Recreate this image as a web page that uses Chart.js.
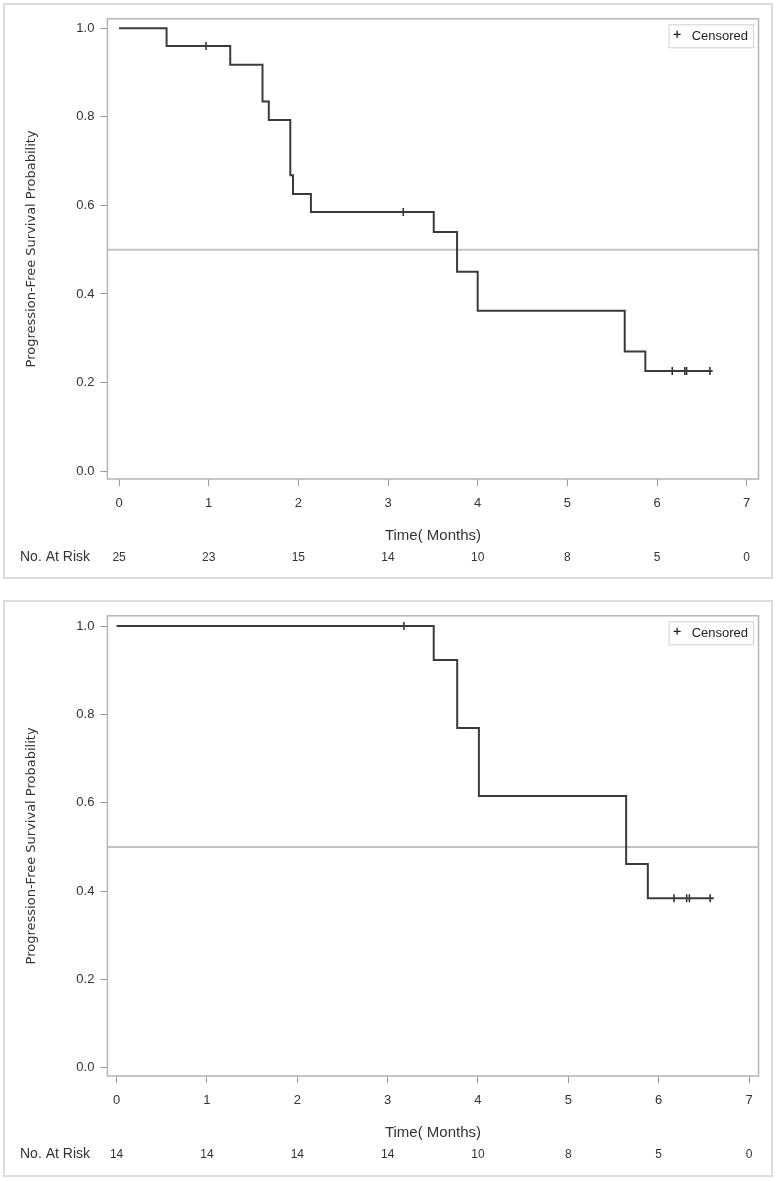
<!DOCTYPE html>
<html>
<head>
<meta charset="utf-8">
<script src="https://cdn.jsdelivr.net/npm/chart.js@4/dist/chart.umd.min.js"></script>
<style>
body { margin: 0; background: #fff; width: 776px; height: 1181px; position: relative; }
.panel { position: absolute; left: 3px; width: 766px; border: 2px solid #dcdcdc; background: #fff; }
.panel canvas { display: block; }
</style>
</head>
<body>
<div class="panel" style="top:3px;height:572px;"><canvas id="km-top" width="766" height="572"></canvas></div>
<div class="panel" style="top:600px;height:573px;"><canvas id="km-bottom" width="766" height="573"></canvas></div>
<script>
// ticks shared by both panels
const timeTicks = [0, 1, 2, 3, 4, 5, 6, 7];
const probTicks = [0, 0.2, 0.4, 0.6, 0.8, 1.0];
const medianLevel = 0.5;

// top panel (all patients)
const pfsTime1 = [0, 0.53, 1.24, 1.60, 1.67, 1.91, 1.94, 2.14, 3.51, 3.77, 4.00, 5.64, 5.87, 6.62];
const pfsProb1 = [1.0, 0.960, 0.918, 0.835, 0.793, 0.668, 0.626, 0.585, 0.540, 0.450, 0.362, 0.270, 0.226, 0.226];
const censorTime1 = [0.97, 3.17, 6.17, 6.31, 6.33, 6.59];
const censorProb1 = [0.960, 0.585, 0.226, 0.226, 0.226, 0.226];
const atRisk1 = [25, 23, 15, 14, 10, 8, 5, 0];

// bottom panel
const pfsTime2 = [0, 3.51, 3.77, 4.01, 5.64, 5.88, 6.61];
const pfsProb2 = [1.0, 0.923, 0.769, 0.615, 0.461, 0.384, 0.384];
const censorTime2 = [3.18, 6.17, 6.31, 6.34, 6.57];
const censorProb2 = [1.0, 0.384, 0.384, 0.384, 0.384];
const atRisk2 = [14, 14, 14, 14, 10, 8, 5, 0];

Chart.defaults.font.family = "'Liberation Sans', Arial, sans-serif";
Chart.defaults.color = '#333';

function toPoints(xs, ys){
    var pts = [];
    for (var i = 0; i < xs.length; i++) pts.push({x: xs[i], y: ys[i]});
    return pts;
}

const kmDecor = {
    id: 'kmDecor',
    beforeDatasetsDraw(chart){
        var a = chart.chartArea;
        var ctx = chart.ctx;
        ctx.save();
        ctx.strokeStyle = '#b4b4b4';
        ctx.lineWidth = 1.5;
        ctx.strokeRect(a.left, a.top, a.right - a.left, a.bottom - a.top);
        ctx.restore();
    },
    afterDraw(chart){
        var a = chart.chartArea;
        var ctx = chart.ctx;
        ctx.save();
        // legend box
        ctx.font = "13px 'Liberation Sans', Arial, sans-serif";
        var tw = ctx.measureText('Censored').width;
        var bw = 23 + tw + 5;
        var bh = 23;
        var bx = a.right - 5.5 - bw;
        var by = a.top + 5.5;
        ctx.fillStyle = '#fff';
        ctx.fillRect(bx, by, bw, bh);
        ctx.strokeStyle = '#d0d0d0';
        ctx.lineWidth = 1;
        ctx.strokeRect(bx + 0.5, by + 0.5, bw, bh);
        ctx.strokeStyle = '#222';
        ctx.lineWidth = 1.3;
        var cx = bx + 8.5, cy = by + 10;
        ctx.beginPath();
        ctx.moveTo(cx - 3.5, cy); ctx.lineTo(cx + 3.5, cy);
        ctx.moveTo(cx, cy - 3.5); ctx.lineTo(cx, cy + 3.5);
        ctx.stroke();
        ctx.fillStyle = '#222';
        ctx.textBaseline = 'middle';
        ctx.fillText('Censored', bx + 23, by + bh / 2 + 1);
        // at-risk row label
        var r = chart.scales.x2;
        ctx.font = "14px 'Liberation Sans', Arial, sans-serif";
        ctx.fillStyle = '#333';
        ctx.fillText('No. At Risk', 15, r.top + 5.6 + 7.2);
        ctx.restore();
    }
};

function drawKmChart(id, times, probs, cTimes, cProbs, atRisk, xMin, xMax, yMin, yMax, padTop, padBottom){
    new Chart(document.getElementById(id), {
        type: 'scatter',
        data: {
            datasets: [{
                label: 'PFS',
                data: toPoints(times, probs),
                showLine: true,
                stepped: true,
                borderColor: '#3a3a3a',
                borderWidth: 2,
                pointRadius: 0,
                xAxisID: 'x', yAxisID: 'y'
            }, {
                label: 'Censored',
                data: toPoints(cTimes, cProbs),
                showLine: false,
                pointStyle: 'line',
                rotation: 90,
                pointRadius: 4,
                pointBorderWidth: 1.5,
                borderColor: '#2a2a2a',
                xAxisID: 'x', yAxisID: 'y'
            }, {
                label: 'Median',
                data: toPoints([xMin, xMax], [medianLevel, medianLevel]),
                showLine: true,
                borderColor: '#c2c2c2',
                borderWidth: 2,
                pointRadius: 0,
                xAxisID: 'x', yAxisID: 'y'
            }]
        },
        options: {
            responsive: false,
            animation: false,
            layout: { padding: { left: 0, top: padTop, right: 12.5, bottom: padBottom } },
            plugins: { legend: { display: false }, tooltip: { enabled: false } },
            scales: {
                x: {
                    type: 'linear', position: 'bottom', weight: 0,
                    min: xMin, max: xMax,
                    afterBuildTicks: function(s){ s.ticks = timeTicks.map(function(v){ return {value: v}; }); },
                    afterFit: function(s){ s.height = 65.5; },
                    grid: { display: true, drawOnChartArea: false, drawTicks: true, tickLength: 7, color: '#9a9a9a' },
                    border: { display: false },
                    ticks: { padding: 9.5, font: { size: 13 }, color: '#333', maxRotation: 0,
                        callback: function(v){ return String(v); } },
                    title: { display: true, text: 'Time( Months)', font: { size: 15 }, color: '#333',
                        padding: { top: 0, bottom: 0 } }
                },
                x2: {
                    type: 'linear', axis: 'x', position: 'bottom', weight: 1,
                    min: xMin, max: xMax,
                    afterBuildTicks: function(s){ s.ticks = timeTicks.map(function(v){ return {value: v}; }); },
                    afterFit: function(s){ s.height = 22; },
                    grid: { display: false, drawTicks: false },
                    border: { display: false },
                    ticks: { padding: 5.6, font: { size: 12 }, color: '#333', maxRotation: 0,
                        callback: function(v, i){ return String(atRisk[i]); } }
                },
                y: {
                    type: 'linear', position: 'left',
                    min: yMin, max: yMax,
                    afterBuildTicks: function(s){ s.ticks = probTicks.map(function(v){ return {value: v}; }); },
                    afterFit: function(s){ s.width = 102.4; },
                    grid: { display: true, drawOnChartArea: false, drawTicks: true, tickLength: 7, color: '#9a9a9a' },
                    border: { display: false },
                    ticks: { padding: 6, font: { size: 13 }, color: '#333',
                        callback: function(v){ return v.toFixed(1); } },
                    title: { display: true, text: 'Progression-Free Survival Probability',
                        font: { family: "'DejaVu Sans', Verdana, sans-serif", size: 13 }, color: '#333',
                        padding: { top: 18.5, bottom: 0 } }
                }
            }
        },
        plugins: [kmDecor]
    });
}

drawKmChart('km-top', pfsTime1, pfsProb1, censorTime1, censorProb1, atRisk1,
    -0.130, 7.132, -0.018, 1.0216, 11.7, 10.5);
drawKmChart('km-bottom', pfsTime2, pfsProb2, censorTime2, censorProb2, atRisk2,
    -0.102, 7.105, -0.0187, 1.0232, 12, 11.5);
</script>
</body>
</html>
